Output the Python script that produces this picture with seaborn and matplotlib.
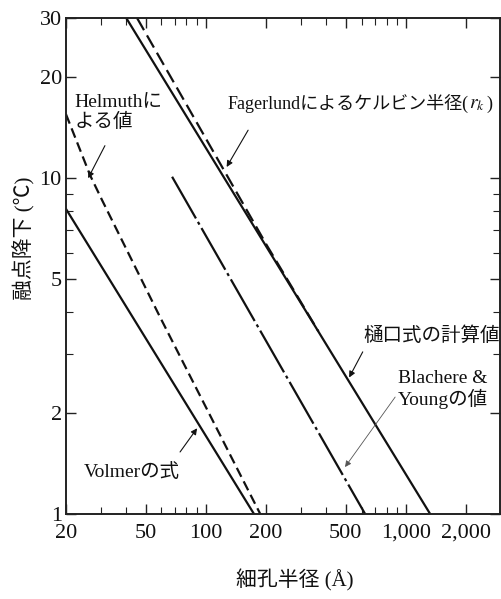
import numpy as np
import matplotlib
matplotlib.use('Agg')
import matplotlib.pyplot as plt
import seaborn as sns
from matplotlib.ticker import FixedLocator, LogLocator, NullFormatter

# ---- data (pore radius in Å, freezing-point depression in °C) ----
volmer_r = [20, 174]
volmer_dt = [8.1, 1.0]
helmuth_r = [20, 26.4, 30.3, 59, 187]
helmuth_dt = [15.5, 10.2, 8.6, 3.86, 1.0]
fagerlund_r = [45.3, 202, 365]
fagerlund_dt = [30, 6.3, 3.5]
higuchi_r = [40, 1321]
higuchi_dt = [30, 1.0]
blachere_r = [67.8, 625]
blachere_dt = [10.1, 1.0]

x_ticks = [20, 50, 100, 200, 500, 1000, 2000]
x_ticklabels = ['20', '50', '100', '200', '500', '1,000', '2,000']
y_ticks = [1, 2, 5, 10, 20, 30]
y_ticklabels = ['1', '2', '5', '10', '20', '30']

sns.set_theme(style='ticks')
plt.rcParams['font.family'] = ['Liberation Serif', 'Noto Sans CJK JP', 'DejaVu Sans']
plt.rcParams['mathtext.fontset'] = 'stix'

fig = plt.figure(figsize=(5.02, 5.99), dpi=100)
ax = fig.add_axes([66/502, 1-514/599, 434/502, 496/599])

lw = 1.6
kw = dict(ax=ax, color='#111111', lw=lw, estimator=None, sort=False)
sns.lineplot(x=volmer_r, y=volmer_dt, **kw)
sns.lineplot(x=helmuth_r, y=helmuth_dt, linestyle=(0, (4.5, 2.3)), **kw)
sns.lineplot(x=higuchi_r, y=higuchi_dt, **kw)
sns.lineplot(x=fagerlund_r, y=fagerlund_dt, linestyle=(0, (6.3, 2.7)), **kw)
sns.lineplot(x=blachere_r, y=blachere_dt, linestyle=(0, (21.6, 1.8, 1.4, 1.8)), **kw)

ax.set_xscale('log')
ax.set_yscale('log')
ax.set_xlim(20, 2950)
ax.set_ylim(1, 30)

ax.xaxis.set_major_locator(FixedLocator(x_ticks))
ax.set_xticklabels(x_ticklabels)
ax.xaxis.set_minor_locator(LogLocator(base=10, subs=np.arange(2, 10)))
ax.xaxis.set_minor_formatter(NullFormatter())
ax.yaxis.set_major_locator(FixedLocator(y_ticks))
ax.set_yticklabels(y_ticklabels)
ax.yaxis.set_minor_locator(LogLocator(base=10, subs=np.arange(2, 10)))
ax.yaxis.set_minor_formatter(NullFormatter())

ax.tick_params(which='both', direction='in', top=True, right=True, color='#222222')
ax.tick_params(which='major', length=7, width=1.0, labelsize=16, labelcolor='#111111')
ax.tick_params(which='minor', length=5, width=0.8)
ax.tick_params(axis='x', which='major', pad=7)
ax.tick_params(axis='y', which='major', pad=3)
for s in ax.spines.values():
    s.set_linewidth(1.4)
    s.set_color('#222222')
ax.set_xlabel('')
ax.set_ylabel('')

fig.text(295/502, 1-580/599, '細孔半径 (Å)', ha='center', va='center', fontsize=15, color='#111111')
fig.text(24/502, 1-238/599, '融点降下 (℃)', ha='center', va='center', rotation=90, fontsize=15, color='#111111')

tkw = dict(fontsize=14, color='#111111', ha='left', va='center')
ax.text(22.1, 15.7, 'Helmuthに\nよる値', linespacing=1.15, **tkw)
t1 = ax.text(129, 16.1, 'Fagerlundによるケルビン半径(', fontsize=13, color='#111111',
             ha='left', va='baseline')
t2 = ax.annotate('$r_k$', xy=(1, 0), xycoords=t1, fontsize=14, color='#111111',
                 ha='left', va='bottom', annotation_clip=False)
t3 = ax.annotate(')', xy=(1, 0), xycoords=(t2, t1), xytext=(1, 0), textcoords='offset points',
                 fontsize=13, color='#111111', ha='left', va='bottom', annotation_clip=False)
ax.text(24.5, 1.33, 'Volmerの式', **tkw)
ax.text(612, 3.4, '樋口式の計算値', **tkw)
ax.text(914, 2.35, 'Blachere &\nYoungの値', linespacing=1.15, **tkw)

akw = dict(arrowstyle='-|>', color='#111111', lw=0.8, mutation_scale=9, shrinkA=0, shrinkB=0)
ax.annotate('', xy=(25.8, 10.0), xytext=(31.3, 12.5), arrowprops=akw)
ax.annotate('', xy=(127, 10.8), xytext=(162.6, 13.9), arrowprops=akw)
ax.annotate('', xy=(90.4, 1.8), xytext=(74.3, 1.53), arrowprops=akw)
ax.annotate('', xy=(520, 2.55), xytext=(608, 3.04), arrowprops=akw)
ax.annotate('', xy=(496, 1.38), xytext=(883, 2.23),
            arrowprops=dict(akw, color='#555555', lw=0.6))

fig.savefig('out.png', dpi=100)
